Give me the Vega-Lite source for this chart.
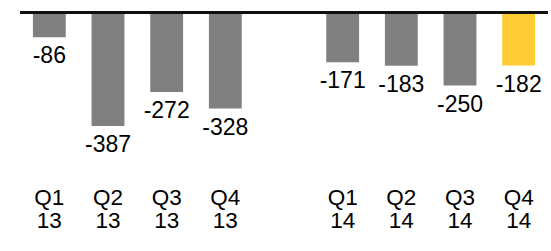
{
  "$schema": "https://vega.github.io/schema/vega-lite/v6.json",
  "width": 528,
  "height": 156,
  "autosize": {"type": "none"},
  "padding": {"left": 20, "top": 12, "right": 3, "bottom": 83},
  "background": "white",
  "config": {"view": {"stroke": null}, "font": "Liberation Sans"},
  "data": {
    "values": [
      {"q": "Q1 13", "v": -86, "lbl": "-86", "hl": "n"},
      {"q": "Q2 13", "v": -387, "lbl": "-387", "hl": "n"},
      {"q": "Q3 13", "v": -272, "lbl": "-272", "hl": "n"},
      {"q": "Q4 13", "v": -328, "lbl": "-328", "hl": "n"},
      {"q": "Q1 14", "v": -171, "lbl": "-171", "hl": "n"},
      {"q": "Q2 14", "v": -183, "lbl": "-183", "hl": "n"},
      {"q": "Q3 14", "v": -250, "lbl": "-250", "hl": "n"},
      {"q": "Q4 14", "v": -182, "lbl": "-182", "hl": "y"}
    ]
  },
  "layer": [
    {
      "mark": {"type": "bar"},
      "encoding": {
        "x": {
          "field": "q",
          "type": "nominal",
          "sort": null,
          "scale": {
            "domain": ["Q1 13", "Q2 13", "Q3 13", "Q4 13", "gap", "Q1 14", "Q2 14", "Q3 14", "Q4 14"],
            "paddingInner": 0.44,
            "paddingOuter": 0.22
          },
          "axis": {
            "title": null,
            "domain": false,
            "ticks": false,
            "tickSize": 0,
            "labelAngle": 0,
            "labelPadding": 18,
            "labelFontSize": 22.5,
            "labelColor": "#000000",
            "labelLineHeight": 23,
            "labelBaseline": "top",
            "labelExpr": "datum.value == 'gap' ? '' : split(datum.value, ' ')"
          }
        },
        "y": {
          "field": "v",
          "type": "quantitative",
          "scale": {"domain": [-530, 0], "nice": false, "zero": false},
          "axis": null
        },
        "color": {
          "field": "hl",
          "type": "nominal",
          "scale": {"domain": ["n", "y"], "range": ["#808080", "#FFCC33"]},
          "legend": null
        }
      }
    },
    {
      "mark": {"type": "text", "baseline": "top", "align": "center", "dy": 8, "fontSize": 23, "color": "#000000"},
      "encoding": {
        "x": {"field": "q", "type": "nominal", "sort": null},
        "y": {"field": "v", "type": "quantitative"},
        "text": {"field": "lbl", "type": "nominal"}
      }
    },
    {
      "mark": {"type": "rule", "color": "#111111", "strokeWidth": 2.5, "opacity": 1},
      "encoding": {"y": {"datum": -2, "type": "quantitative"}}
    }
  ]
}
